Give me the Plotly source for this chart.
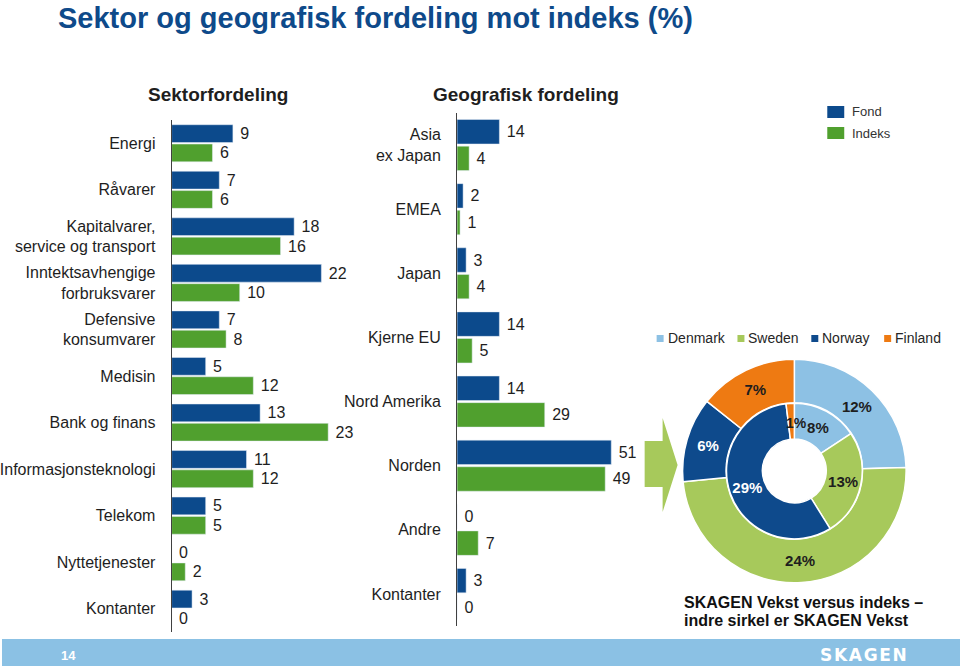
import plotly.graph_objects as go

W, H = 960, 666

def px(x):
    return x / W

def py(y):
    return 1 - y / H

# ---------------- data ----------------
sector_cats = ["Energi", "Råvarer", "Kapitalvarer, service og transport",
               "Inntektsavhengige forbruksvarer", "Defensive konsumvarer",
               "Medisin", "Bank og finans", "Informasjonsteknologi",
               "Telekom", "Nyttetjenester", "Kontanter"]
sector_ticks = ["Energi", "Råvarer", "Kapitalvarer,<br>service og transport",
                "Inntektsavhengige<br>forbruksvarer", "Defensive<br>konsumvarer",
                "Medisin", "Bank og finans", "Informasjonsteknologi",
                "Telekom", "Nyttetjenester", "Kontanter"]
sector_fond = [9, 7, 18, 22, 7, 5, 13, 11, 5, 0, 3]
sector_indeks = [6, 6, 16, 10, 8, 12, 23, 12, 5, 2, 0]

geo_cats = ["Asia ex Japan", "EMEA", "Japan", "Kjerne EU", "Nord Amerika",
            "Norden", "Andre", "Kontanter"]
geo_ticks = ["Asia<br>ex Japan", "EMEA", "Japan", "Kjerne EU", "Nord Amerika",
             "Norden", "Andre", "Kontanter"]
geo_fond = [14, 2, 3, 14, 14, 51, 0, 3]
geo_indeks = [4, 1, 4, 5, 29, 49, 7, 0]

countries = ["Denmark", "Sweden", "Norway", "Finland"]
nordic_fond = [8, 13, 29, 1]      # inner ring: SKAGEN Vekst
nordic_indeks = [12, 24, 6, 7]    # outer ring: index

series_names = ["Fond", "Indeks"]

# ---------------- styles ----------------
FOND_C = "#0C4A8C"
INDEKS_C = "#50A02E"
country_colors = ["#8DC1E4", "#A7C95B", "#0E4A8C", "#EE7A12"]
TXT = "#1E1E1E"
FONT = "Liberation Sans, Arial, sans-serif"

fig = go.Figure()

bar_common = dict(orientation="h", textposition="outside", texttemplate=" %{x}",
                  textfont=dict(size=16, color=TXT, family=FONT),
                  cliponaxis=False, constraintext="none", showlegend=False)

fig.add_trace(go.Bar(y=sector_cats, x=sector_fond, name=series_names[0],
                     marker_color=FOND_C, xaxis="x", yaxis="y", **bar_common))
fig.add_trace(go.Bar(y=sector_cats, x=sector_indeks, name=series_names[1],
                     marker_color=INDEKS_C, xaxis="x", yaxis="y", **bar_common))
fig.add_trace(go.Bar(y=geo_cats, x=geo_fond, name=series_names[0],
                     marker_color=FOND_C, xaxis="x2", yaxis="y2", **bar_common))
fig.add_trace(go.Bar(y=geo_cats, x=geo_indeks, name=series_names[1],
                     marker_color=INDEKS_C, xaxis="x2", yaxis="y2", **bar_common))

# donut: outer = index, inner = fund
fig.add_trace(go.Pie(
    values=nordic_indeks, labels=countries, sort=False, direction="clockwise",
    rotation=0, hole=0.61,
    domain=dict(x=[px(682), px(906)], y=[py(583), py(359)]),
    marker=dict(colors=country_colors, line=dict(color="white", width=1.5)),
    texttemplate="<b>%{value}%</b>", textposition="inside",
    insidetextorientation="horizontal",
    textfont=dict(size=15, family=FONT, color=[TXT, TXT, "white", TXT]),
    showlegend=False))
fig.add_trace(go.Pie(
    values=nordic_fond, labels=countries, sort=False, direction="clockwise",
    rotation=0, hole=0.47,
    domain=dict(x=[px(726), px(862)], y=[py(539), py(403)]),
    marker=dict(colors=country_colors, line=dict(color="white", width=1.5)),
    texttemplate="<b>%{value}%</b>",
    textposition=["inside", "inside", "inside", "none"],
    insidetextorientation="horizontal",
    textfont=dict(size=15, family=FONT, color=[TXT, TXT, "white", TXT]),
    showlegend=False))

axis_y_common = dict(type="category", autorange="reversed", showline=True,
                     linecolor="#404040", linewidth=1, ticks="", showgrid=False,
                     tickfont=dict(size=16, color=TXT, family=FONT),
                     ticklabelstandoff=12)

fig.update_layout(
    width=W, height=H, margin=dict(l=0, r=0, t=0, b=0),
    paper_bgcolor="white", plot_bgcolor="white",
    font=dict(family=FONT, color=TXT),
    barmode="group", bargap=0.17, bargroupgap=0.08,
    xaxis=dict(domain=[px(170), px(170 + 25 * 6.82)], range=[0, 25],
               visible=False, anchor="y"),
    yaxis=dict(domain=[py(632), py(120)], anchor="x",
               tickvals=sector_cats, ticktext=sector_ticks, **axis_y_common),
    xaxis2=dict(domain=[px(456), px(456 + 60 * 3.03)], range=[0, 60],
                visible=False, anchor="y2"),
    yaxis2=dict(domain=[py(626), py(113)], anchor="x2",
                tickvals=geo_cats, ticktext=geo_ticks, **axis_y_common),
)

shapes = []
annotations = []

# footer band
shapes.append(dict(type="rect", xref="paper", yref="paper", x0=0, x1=1,
                   y0=0, y1=py(639), fillcolor="#8BC1E4", line_width=0,
                   layer="below"))

# arrow
pts = [(644, 441), (662, 441), (662, 418), (677, 465), (662, 512), (662, 487), (644, 487)]
path = "M " + " L ".join(f"{px(a):.5f},{py(b):.5f}" for a, b in pts) + " Z"
shapes.append(dict(type="path", xref="paper", yref="paper", path=path,
                   fillcolor="#A7C95B", line_width=0))

# Fond / Indeks legend
for i, (nm, col) in enumerate(zip(series_names, [FOND_C, INDEKS_C])):
    y0 = 106 + i * 21
    shapes.append(dict(type="rect", xref="paper", yref="paper",
                       x0=px(827), x1=px(844), y0=py(y0 + 12), y1=py(y0),
                       fillcolor=col, line_width=0))
    annotations.append(dict(text=nm, xref="paper", yref="paper", x=px(850),
                            y=py(y0 + 6), xanchor="left", yanchor="middle",
                            showarrow=False,
                            font=dict(size=13, color="#333333", family=FONT)))

# country legend
leg_sq = [656, 737, 811, 884]
for nm, col, x0 in zip(countries, country_colors, leg_sq):
    shapes.append(dict(type="rect", xref="paper", yref="paper",
                       x0=px(x0), x1=px(x0 + 7), y0=py(342), y1=py(335),
                       fillcolor=col, line_width=0))
    annotations.append(dict(text=nm, xref="paper", yref="paper", x=px(x0 + 9),
                            y=py(338.5), xanchor="left", yanchor="middle",
                            showarrow=False,
                            font=dict(size=14, color="#262626", family=FONT)))

# titles
annotations.append(dict(text="<b>Sektor og geografisk fordeling mot indeks (%)</b>",
                        xref="paper", yref="paper", x=px(54), y=1,
                        xanchor="left", yanchor="top", showarrow=False,
                        font=dict(size=29, color="#0E4A8A", family=FONT)))
annotations.append(dict(text="<b>Sektorfordeling</b>", xref="paper", yref="paper",
                        x=px(216), y=py(95), xanchor="center", yanchor="middle",
                        showarrow=False, font=dict(size=19, color=TXT, family=FONT)))
annotations.append(dict(text="<b>Geografisk fordeling</b>", xref="paper", yref="paper",
                        x=px(525), y=py(95), xanchor="center", yanchor="middle",
                        showarrow=False, font=dict(size=19, color=TXT, family=FONT)))

# donut extra label and caption
annotations.append(dict(text="<b>1%</b>", xref="paper", yref="paper",
                        x=px(796), y=py(423), xanchor="center", yanchor="middle",
                        showarrow=False, font=dict(size=14, color=TXT, family=FONT)))
annotations.append(dict(text="<b>SKAGEN Vekst versus indeks –</b>", xref="paper",
                        yref="paper", x=px(681), y=py(602), xanchor="left",
                        yanchor="middle", showarrow=False,
                        font=dict(size=16, color="#111111", family=FONT)))
annotations.append(dict(text="<b>indre sirkel er SKAGEN Vekst</b>", xref="paper",
                        yref="paper", x=px(681), y=py(620), xanchor="left",
                        yanchor="middle", showarrow=False,
                        font=dict(size=16, color="#111111", family=FONT)))

# footer texts
annotations.append(dict(text="<b>14</b>", xref="paper", yref="paper", x=px(57),
                        y=py(655), xanchor="left", yanchor="middle", showarrow=False,
                        font=dict(size=13, color="white", family=FONT)))
annotations.append(dict(text="<b>S K A G E N</b>".replace(" ", "&#8202;"), xref="paper",
                        yref="paper", x=px(863), y=py(655), xanchor="center",
                        yanchor="middle", showarrow=False,
                        font=dict(size=17, color="white", family="DejaVu Sans")))

fig.update_layout(shapes=shapes, annotations=annotations)

fig.write_html("out.html", config={"displayModeBar": False},
               post_script="document.body.style.margin='0';document.body.style.padding='0';")
